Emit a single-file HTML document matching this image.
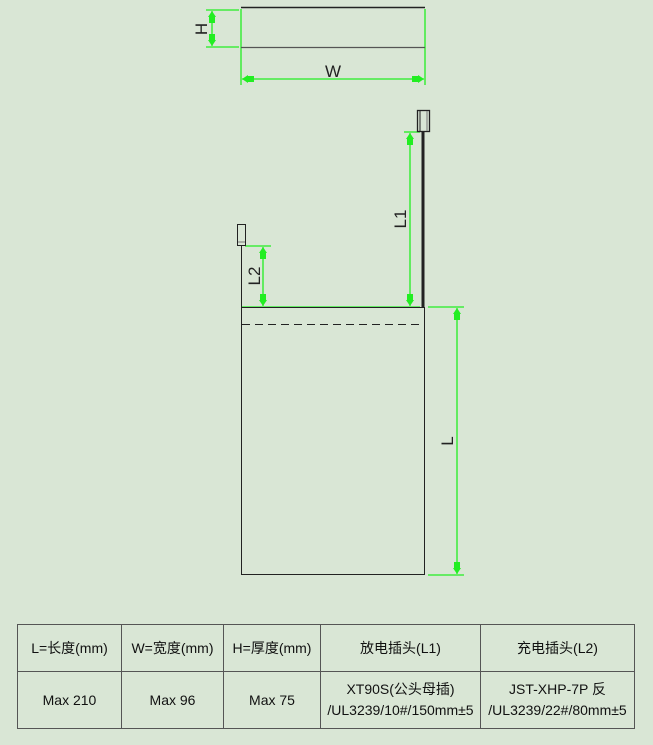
<!DOCTYPE html>
<html><head><meta charset="utf-8"><style>
html,body{margin:0;padding:0;background:#d9e6d5;}
body{width:653px;height:745px;position:relative;overflow:hidden;font-family:"Liberation Sans","Noto Sans CJK SC",sans-serif;}
svg{position:absolute;left:0;top:0;}
table{position:absolute;left:17px;top:624px;border-collapse:collapse;font-size:14px;color:#111;}
td{border:1px solid #555;text-align:center;padding:0;line-height:21px;}
</style></head><body>
<svg width="653" height="745" viewBox="0 0 653 745">
<defs>
<marker id="a" viewBox="0 0 12 8" refX="12" refY="4" markerWidth="12" markerHeight="8" markerUnits="userSpaceOnUse" orient="auto-start-reverse"><path d="M0,1 L6,1 L6,0 L12,4 L6,8 L6,7 L0,7 z" fill="#22ee22"/></marker>
</defs>
<g stroke="#22ee22" stroke-width="1.3" fill="none">
<line x1="206" y1="10" x2="239" y2="10"/><line x1="206" y1="47" x2="239" y2="47"/>
<line x1="212" y1="11" x2="212" y2="46" marker-start="url(#a)" marker-end="url(#a)"/>
<line x1="241" y1="9" x2="241" y2="85"/><line x1="425" y1="9" x2="425" y2="85"/>
<line x1="242" y1="79" x2="424" y2="79" marker-start="url(#a)" marker-end="url(#a)"/>
<line x1="404" y1="132" x2="420" y2="132"/>
<line x1="410" y1="133" x2="410" y2="306" marker-start="url(#a)" marker-end="url(#a)"/>
<line x1="245" y1="246" x2="271" y2="246"/>
<line x1="263" y1="247" x2="263" y2="306" marker-start="url(#a)" marker-end="url(#a)"/>
<line x1="242" y1="307" x2="420" y2="307"/>
<line x1="428" y1="307" x2="464" y2="307"/><line x1="428" y1="575" x2="464" y2="575"/>
<line x1="457" y1="308" x2="457" y2="574" marker-start="url(#a)" marker-end="url(#a)"/>
</g>
<g stroke="#222" fill="none">
<line x1="241" y1="7.5" x2="425" y2="7.5" stroke-width="1.5"/>
<line x1="241" y1="47.5" x2="425" y2="47.5" stroke="#555" stroke-width="1.3"/>
<rect x="241.5" y="307.5" width="183" height="267"/>
<line x1="242" y1="324.5" x2="424" y2="324.5" stroke-dasharray="8,5"/>
<line x1="423" y1="132" x2="423" y2="307" stroke-width="3"/>
<rect x="417.5" y="110.5" width="12" height="21" stroke-width="1.3"/>
<line x1="420" y1="111" x2="420" y2="131"/><line x1="427" y1="111" x2="427" y2="131" stroke="#777"/>
<line x1="241.5" y1="246" x2="241.5" y2="307"/>
<rect x="237.5" y="224.5" width="8" height="21"/>
<line x1="238" y1="242" x2="245" y2="242" stroke="#777"/>
</g>
<g font-family="Liberation Sans, sans-serif" font-size="17" fill="#222">
<text x="333" y="77" text-anchor="middle">W</text>
<text transform="translate(207,29) rotate(-90)" text-anchor="middle">H</text>
<text transform="translate(406,219) rotate(-90)" text-anchor="middle">L1</text>
<text transform="translate(260,276) rotate(-90)" text-anchor="middle">L2</text>
<text transform="translate(453,441) rotate(-90)" text-anchor="middle">L</text>
</g>
</svg>
<table>
<tr style="height:47px"><td style="width:103px">L=长度(mm)</td><td style="width:101px">W=宽度(mm)</td><td style="width:96px">H=厚度(mm)</td><td style="width:159px">放电插头(L1)</td><td style="width:153px">充电插头(L2)</td></tr>
<tr style="height:57px"><td>Max 210</td><td>Max 96</td><td>Max 75</td><td>XT90S(公头母插)<br>/UL3239/10#/150mm±5</td><td>JST-XHP-7P 反<br>/UL3239/22#/80mm±5</td></tr>
</table>
</body></html>
